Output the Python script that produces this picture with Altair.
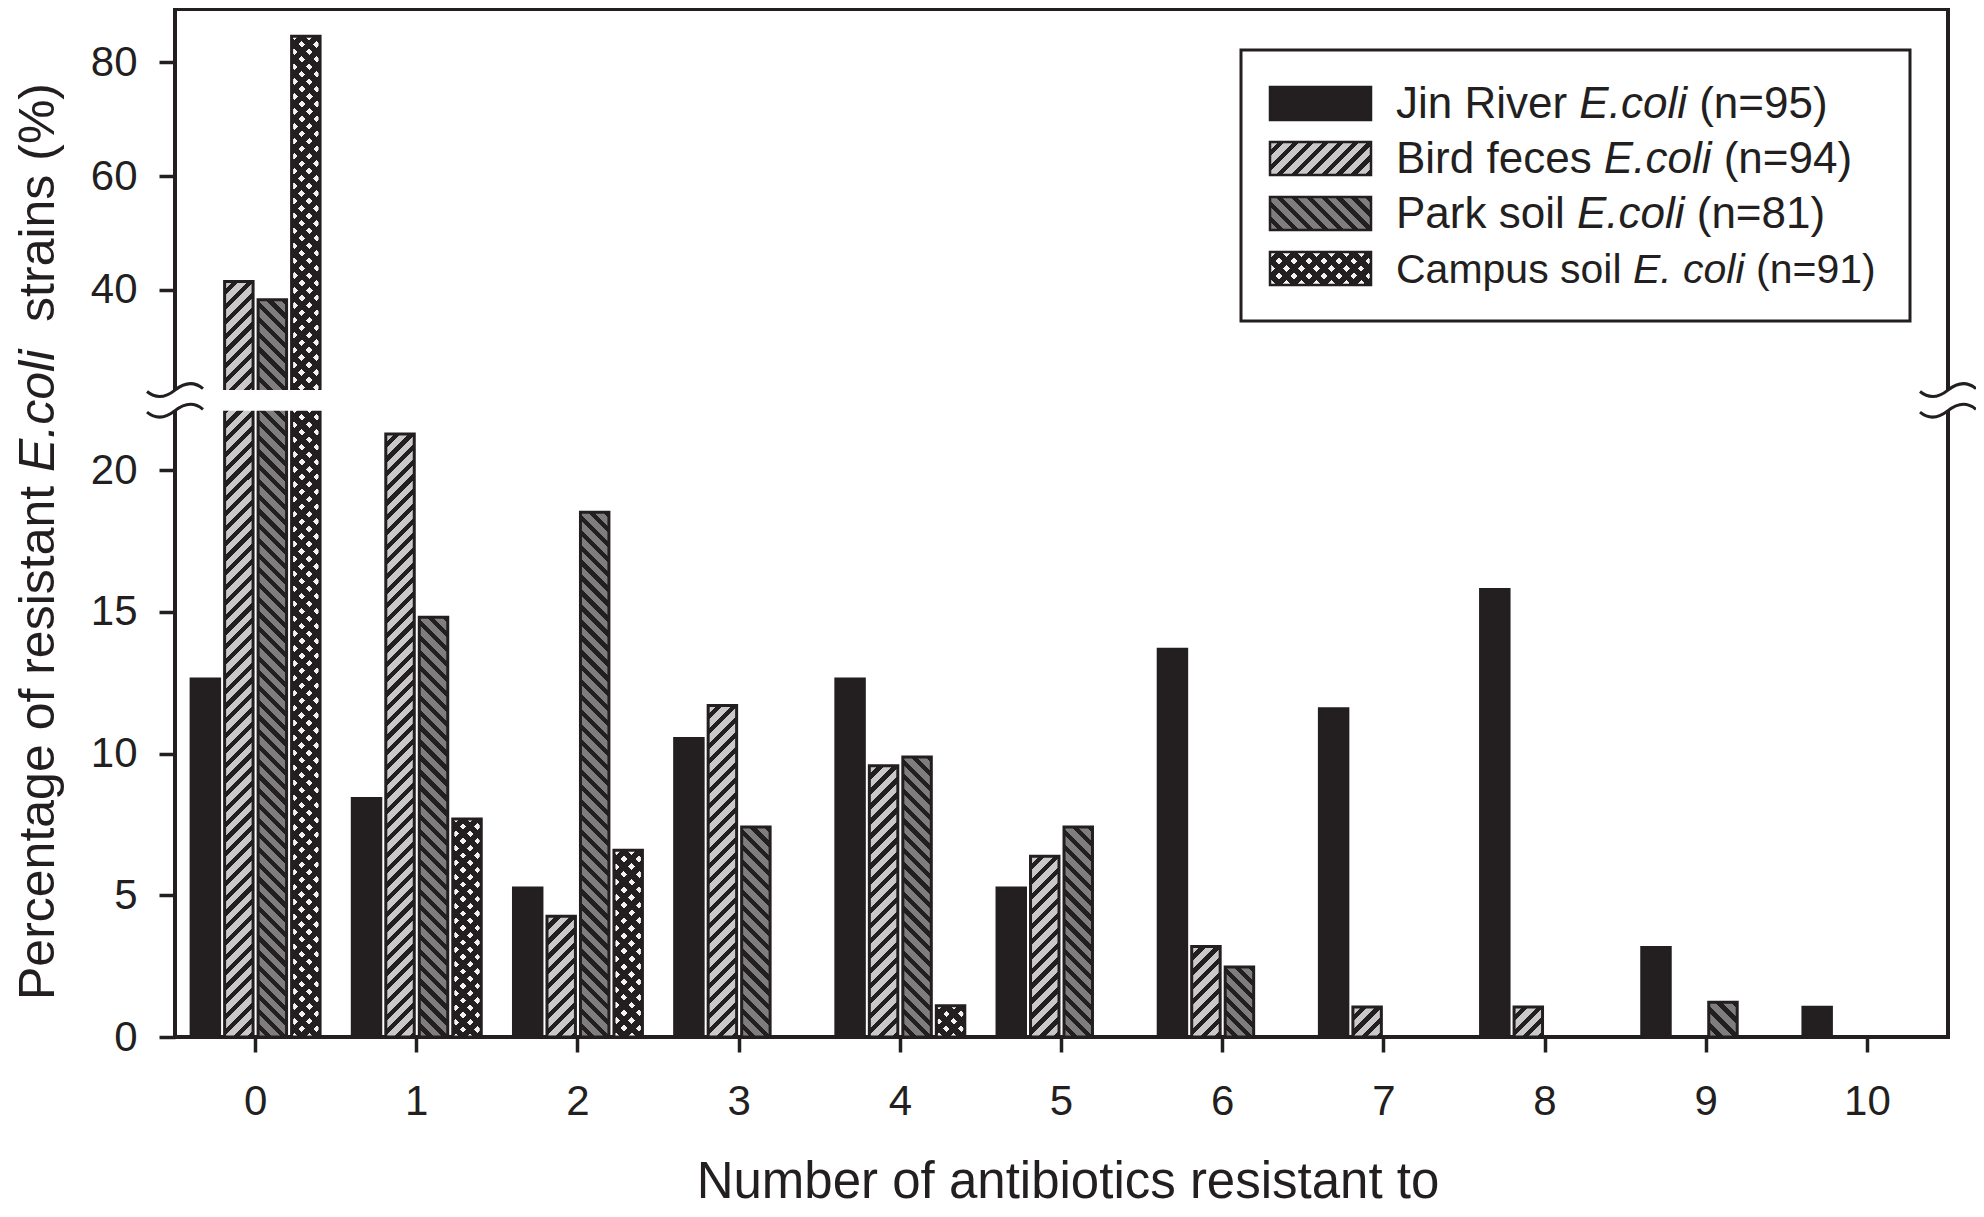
import math
import numpy as np
import altair as alt

# ---------------- data ----------------
groups = [str(i) for i in range(11)]
series = ["Jin River", "Bird feces", "Park soil", "Campus soil"]
jin_river = [12.63, 8.42, 5.26, 10.53, 12.63, 5.26, 13.68, 11.58, 15.79, 3.16, 1.05]
bird_feces = [41.49, 21.28, 4.26, 11.70, 9.57, 6.38, 3.19, 1.06, 1.06, 0, 0]
park_soil = [38.27, 14.81, 18.52, 7.41, 9.88, 7.41, 2.47, 0, 0, 1.23, 0]
campus_soil = [84.62, 7.69, 6.59, 0, 1.10, 0, 0, 0, 0, 0, 0]
legend_names = ["Jin River", "Bird feces", "Park soil", "Campus soil"]
legend_species = ["E.coli", "E.coli", "E.coli", "E. coli"]
legend_counts = ["(n=95)", "(n=94)", "(n=81)", "(n=91)"]
legend_sizes = [44, 44, 44, 41]
y_ticks = [0, 5, 10, 15, 20, 40, 60, 80]
x_title = "Number of antibiotics resistant to"
y_title_parts = ["Percentage of resistant", "E.coli", "strains (%)"]

# ---------------- layout / style ----------------
FONT = "Liberation Sans"
INK = "#231f20"
W, H = 1773, 1028
Y_DOMAIN = [0, 22.1, 22.4, 89.4]
Y_RANGE = [H, 401.7, 381.1, 0]
PAD_IN, PAD_OUT, OFF_PAD = 0.2, 0.1, 0.15
PERIOD = 10.5

AW = {' ': 278, '(': 333, ')': 333, '%': 889, '.': 278, '=': 584,
      'A': 667, 'B': 667, 'C': 722, 'D': 722, 'E': 667, 'F': 611, 'G': 778, 'H': 722,
      'I': 278, 'J': 500, 'K': 667, 'L': 556, 'M': 833, 'N': 722, 'O': 778, 'P': 667,
      'Q': 778, 'R': 722, 'S': 667, 'T': 611, 'U': 722, 'V': 667, 'W': 944, 'X': 667,
      'Y': 667, 'Z': 611,
      'a': 556, 'b': 556, 'c': 500, 'd': 556, 'e': 556, 'f': 278, 'g': 556, 'h': 556,
      'i': 222, 'j': 222, 'k': 500, 'l': 222, 'm': 833, 'n': 556, 'o': 556, 'p': 556,
      'q': 556, 'r': 333, 's': 500, 't': 278, 'u': 556, 'v': 500, 'w': 722, 'x': 500,
      'y': 500, 'z': 500}
for d in "0123456789":
    AW[d] = 556


def tw(s, size):
    return sum(AW.get(c, 556) for c in s) / 1000.0 * size


def stripes(w, h, direction, bg, fg, fg_frac, period=PERIOD):
    a = (w + h) / (w * w + h * h)
    n = max(1, int(round((w + h) / (period * math.sqrt(2)))))
    stops = []
    for k in range(n):
        o0 = round(k / n, 5)
        o1 = round((k + 1 - fg_frac) / n, 5)
        o2 = round((k + 1) / n, 5)
        stops += [{"offset": o0, "color": bg}, {"offset": o1, "color": bg},
                  {"offset": o1, "color": fg}, {"offset": o2, "color": fg}]
    if direction == "/":
        return {"gradient": "linear", "x1": 0, "y1": 0, "x2": a * w, "y2": a * h, "stops": stops}
    return {"gradient": "linear", "x1": 0, "y1": 1, "x2": a * w, "y2": 1 - a * h, "stops": stops}


CLEAR = "rgba(0,0,0,0)"


def fills(name, w, h):
    if name == "Jin River":
        return INK, CLEAR
    if name == "Bird feces":
        return stripes(w, h, "/", "#c9c9c9", INK, 0.42), CLEAR
    if name == "Park soil":
        return stripes(w, h, "\\", "#7e7e7e", INK, 0.42), CLEAR
    return (stripes(w, h, "/", "#f2f2f2", INK, 0.55),
            stripes(w, h, "\\", CLEAR, INK, 0.55))


# bar width as the band scales will compute it
step = W / (len(groups) - PAD_IN + 2 * PAD_OUT)
band = step * (1 - PAD_IN)
bar_w = band / (len(series) - OFF_PAD) * (1 - OFF_PAD)

rows = []
for name, vals in zip(series, [jin_river, bird_feces, park_soil, campus_soil]):
    for g, v in zip(groups, vals):
        if v <= 0:
            continue
        h_px = H - float(np.interp(v, Y_DOMAIN, Y_RANGE))
        f1, f2 = fills(name, bar_w, h_px)
        rows.append({"group": g, "series": name, "value": v, "f1": f1, "f2": f2})

bars_data = alt.Data(values=rows)
one = alt.Data(values=[{"k": 1}])

x_enc = alt.X("group:N", sort=groups, title=None,
              scale=alt.Scale(paddingInner=PAD_IN, paddingOuter=PAD_OUT),
              axis=alt.Axis(labelAngle=0))
xo_enc = alt.XOffset("series:N", sort=series,
                     scale=alt.Scale(paddingInner=OFF_PAD, paddingOuter=0))
y_enc = alt.Y("value:Q", stack=None, title=None,
              scale=alt.Scale(domain=Y_DOMAIN, range=Y_RANGE, nice=False, zero=False),
              axis=alt.Axis(values=y_ticks, labelOverlap=False, labelFlush=False))

bars1 = alt.Chart(bars_data).mark_bar(strokeWidth=0).encode(
    x=x_enc, xOffset=xo_enc, y=y_enc, fill=alt.Fill("f1:N", scale=None))
bars2 = alt.Chart(bars_data).mark_bar(stroke=INK, strokeWidth=3).encode(
    x=x_enc, xOffset=xo_enc, y=y_enc, fill=alt.Fill("f2:N", scale=None))

# axis break: white gap plus wavy marks
gap = alt.Chart(one).mark_rect(fill="white").encode(
    x=alt.value(-12), x2=alt.value(W + 12),
    y=alt.YDatum(22.4, title=None), y2=alt.Y2Datum(22.1))

BREAK = "M -1 0.05 C -0.7 0.3 -0.35 0.28 0 0 C 0.35 -0.28 0.7 -0.3 1 -0.05"
breaks = []
for xv in (0, W):
    for yv in (22.4, 22.1):
        breaks.append(alt.Chart(one).mark_point(
            shape=BREAK, size=3136, filled=False, color=INK, strokeWidth=3, opacity=1
        ).encode(x=alt.value(xv), y=alt.YDatum(yv, title=None)))


def txt(s, x, y, size, style="normal", angle=0, align="left"):
    return alt.Chart(one).mark_text(
        text=s, font=FONT, fontSize=size, fontStyle=style, angle=angle,
        align=align, baseline="alphabetic", color=INK
    ).encode(x=alt.value(x), y=alt.value(y))


def rect(x0, x1, y0, y1, fill, stroke=None, sw=0):
    kw = {"fill": fill, "strokeWidth": sw}
    if stroke:
        kw["stroke"] = stroke
    return alt.Chart(one).mark_rect(**kw).encode(
        x=alt.value(x0), x2=alt.value(x1), y=alt.value(y0), y2=alt.value(y1))


# legend
legend = [rect(1066, 1735, 41, 312, "white", INK, 3)]
for i, (nm, sp, cnt, fs) in enumerate(zip(legend_names, legend_species, legend_counts, legend_sizes)):
    y0, y1 = 78 + 55 * i, 111 + 55 * i
    f1, f2 = fills(nm, 101, 33)
    legend.append(rect(1095, 1196, y0, y1, f1))
    legend.append(rect(1095, 1196, y0, y1, f2, INK, 2.5))
    xb = 1221
    yb = 109 + 55 * i
    legend.append(txt(nm, xb, yb, fs))
    x2 = xb + tw(nm + " ", fs)
    legend.append(txt(sp, x2, yb, fs, "italic"))
    x3 = x2 + tw(sp + " ", fs)
    legend.append(txt(cnt, x3, yb, fs))

# axis titles
titles = [txt(x_title, 893, 1189, 51, align="center")]
YFS = 50
yb0 = 991
yx = -121
titles.append(txt(y_title_parts[0], yx, yb0, YFS, angle=270))
o1 = tw(y_title_parts[0] + " ", YFS)
titles.append(txt(y_title_parts[1], yx, yb0 - o1, YFS, "italic", angle=270))
o2 = o1 + tw(y_title_parts[1] + "  ", YFS)
titles.append(txt(y_title_parts[2], yx, yb0 - o2, YFS, angle=270))

chart = alt.layer(bars1, bars2, gap, *breaks, *legend, *titles).properties(
    width=W, height=H,
    padding={"left": 167, "top": 1, "right": 28, "bottom": 172},
    autosize=alt.AutoSizeParams(type="none"),
).configure_view(
    stroke=INK, strokeWidth=4
).configure_axis(
    domain=False, grid=False, labelFont=FONT, labelFontSize=42, labelColor=INK,
    tickColor=INK, tickWidth=3.5
).configure_axisY(
    tickSize=16, labelPadding=22
).configure_axisX(
    tickSize=15, labelPadding=29
)

chart.save("out.html", embed_options={"renderer": "svg", "actions": False})
